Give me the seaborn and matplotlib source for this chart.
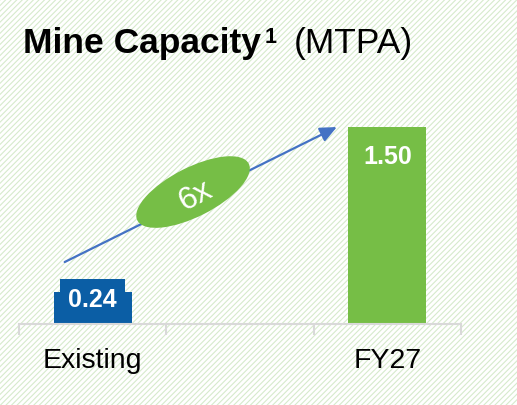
'''
Mine capacity bar chart: existing vs FY27, with a 6x growth arrow.
'''
import matplotlib
matplotlib.use("Agg")
import matplotlib.pyplot as plt
import seaborn as sns
from matplotlib.patches import Ellipse, Rectangle
from matplotlib.transforms import ScaledTranslation

categories = ["Existing", "FY27"]
capacity = [0.24, 1.50]
order = ["Existing", " ", "FY27"]
labels = ["0.24", "1.50"]
multiple = "6x"

BLUE = "#0B5EA5"
GREEN = "#76BE46"
ARROW = "#4472C4"
GRID = "#d9d9d9"

sns.set_style("white")
plt.rcParams["font.family"] = ["Liberation Sans", "DejaVu Sans"]
plt.rcParams["text.color"] = "black"
plt.rcParams["xtick.color"] = "black"
plt.rcParams["hatch.linewidth"] = 0.8

fig = plt.figure(figsize=(5.17, 4.06), dpi=100)
# hatched slide background
fig.patches.append(Rectangle((0, 0), 1, 1, transform=fig.transFigure,
                             facecolor="white", edgecolor="#d6eacc",
                             hatch="//////", linewidth=0, zorder=-10))

ax = fig.add_axes([0.0368, 0.1995, 0.855, 0.566])
ax.patch.set_alpha(0)

sns.barplot(x=categories, y=capacity, order=order, hue=categories,
            palette={"Existing": BLUE, "FY27": GREEN}, legend=False,
            width=0.53, saturation=1, linewidth=0, ax=ax)
ax.set_xlim(-0.5, 2.5)
ax.set_ylim(0, 1.75)

# value labels
ax.text(0, 0.19, labels[0], ha="center", va="center", color="white",
        fontsize=18, fontweight="bold",
        bbox=dict(boxstyle="square,pad=0.32", fc=BLUE, ec="none"))
ax.text(2, 1.28, labels[1], ha="center", va="center", color="white",
        fontsize=18, fontweight="bold")

# growth arrow with ellipse badge
ax.annotate("", xy=(1.657, 1.50), xytext=(-0.19, 0.472),
            arrowprops=dict(arrowstyle="-|>,head_length=1.0,head_width=0.45",
                            color=ARROW, lw=1.6, shrinkA=0, shrinkB=0))
badge = fig.dpi_scale_trans + ScaledTranslation(0.681, 1.005, ax.transData)
ax.add_patch(Ellipse((0, 0), 1.25, 0.49, angle=27, transform=badge,
                     facecolor=GREEN, edgecolor="none", zorder=5))
ax.text(0.695, 0.985, multiple, ha="center", va="center", rotation=28,
        rotation_mode="anchor", color="white", fontsize=23, zorder=6)

# axes styling
for side in ["left", "right", "top"]:
    ax.spines[side].set_visible(False)
ax.spines["bottom"].set_color(GRID)
ax.spines["bottom"].set_linewidth(1.5)
ax.set_yticks([])
ax.set_ylabel("")
ax.set_xticks([0, 2])
ax.set_xticklabels(["Existing", "FY27"], fontsize=20.5)
ax.set_xticks([-0.5, 0.5, 1.5, 2.5], minor=True)
ax.tick_params(axis="x", which="major", bottom=True, length=0, pad=16.5)
ax.tick_params(axis="x", which="minor", bottom=True, length=8, width=1.5,
               color=GRID, direction="out")

# title: bold part, superscript, regular part
renderer = fig.canvas.get_renderer()
y_base = 0.8695
t1 = fig.text(23 / 517, y_base, "Mine Capacity", fontsize=25.5,
              fontweight="bold", va="baseline")
x1 = t1.get_window_extent(renderer).x1 / fig.bbox.width
t2 = fig.text(x1 + 4 / 517, y_base + 10 / 406, "1", fontsize=15.5,
              fontweight="bold", va="baseline")
x2 = t2.get_window_extent(renderer).x1 / fig.bbox.width
fig.text(x2 + 17 / 517, y_base, "(MTPA)", fontsize=25.5, va="baseline")

fig.savefig("out.png", dpi=100)
